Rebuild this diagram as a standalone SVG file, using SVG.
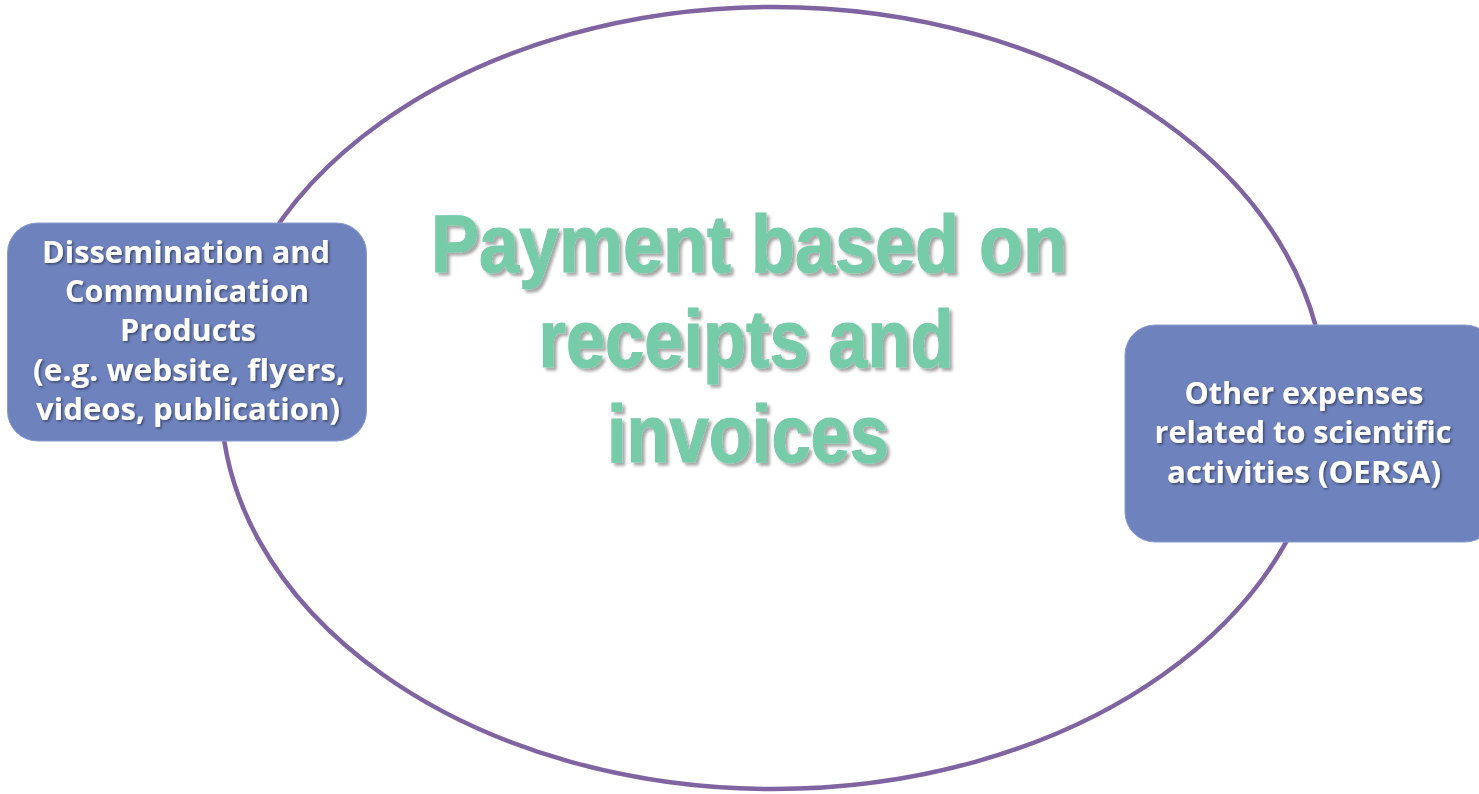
<svg xmlns="http://www.w3.org/2000/svg" width="1479" height="794" viewBox="0 0 1479 794">
  <style>
    .box { fill: #6E82BE; stroke: #8A9BCF; stroke-width: 1; }
    .lbl { font-family: "Open Sans", "Liberation Sans", sans-serif; font-weight: bold; font-size: 30.5px; fill: #FFFFFF; text-anchor: middle; filter: url(#sh); }
    .big { font-family: "Liberation Sans", Arial, sans-serif; font-weight: bold; font-size: 82px; fill: #76CBA9; stroke: #76CBA9; stroke-width: 1.2; text-anchor: middle; filter: url(#bigsh); }
  </style>
  <defs>
    <filter id="sh" x="-10%" y="-30%" width="120%" height="160%">
      <feDropShadow dx="1.5" dy="1.5" stdDeviation="1" flood-color="#000000" flood-opacity="0.45"/>
    </filter>
    <filter id="bigsh" x="-10%" y="-20%" width="120%" height="140%">
      <feDropShadow dx="3" dy="3" stdDeviation="1.5" flood-color="#000000" flood-opacity="0.35"/>
    </filter>
  </defs>
  <rect width="1479" height="794" fill="#FFFFFF"/>
  <g id="connectors">
    <ellipse cx="773" cy="398" rx="552" ry="391" fill="none" stroke="#8064A2" stroke-width="4.5"/>
  </g>
  <g id="center">
    <text class="big" x="749" y="272" textLength="636" lengthAdjust="spacingAndGlyphs">Payment based on</text>
    <text class="big" x="746" y="367" textLength="415" lengthAdjust="spacingAndGlyphs">receipts and</text>
    <text class="big" x="748" y="462" textLength="282" lengthAdjust="spacingAndGlyphs">invoices</text>
  </g>
  <g id="node-dissemination">
    <rect class="box" x="7.5" y="223" width="359" height="218" rx="30" ry="30"/>
    <text class="lbl" x="186" y="263" textLength="288" lengthAdjust="spacingAndGlyphs">Dissemination and</text>
    <text class="lbl" x="187" y="302" textLength="244" lengthAdjust="spacingAndGlyphs">Communication</text>
    <text class="lbl" x="188" y="341" textLength="136" lengthAdjust="spacingAndGlyphs">Products</text>
    <text class="lbl" x="189" y="381" textLength="312" lengthAdjust="spacingAndGlyphs">(e.g. website, flyers,</text>
    <text class="lbl" x="188" y="420" textLength="304" lengthAdjust="spacingAndGlyphs">videos, publication)</text>
  </g>
  <g id="node-oersa">
    <rect class="box" x="1125" y="325" width="370" height="217" rx="30" ry="30"/>
    <text class="lbl" x="1304" y="404" textLength="239" lengthAdjust="spacingAndGlyphs">Other expenses</text>
    <text class="lbl" x="1303" y="443" textLength="297" lengthAdjust="spacingAndGlyphs">related to scientific</text>
    <text class="lbl" x="1304" y="483" textLength="274" lengthAdjust="spacingAndGlyphs">activities (OERSA)</text>
  </g>
</svg>
